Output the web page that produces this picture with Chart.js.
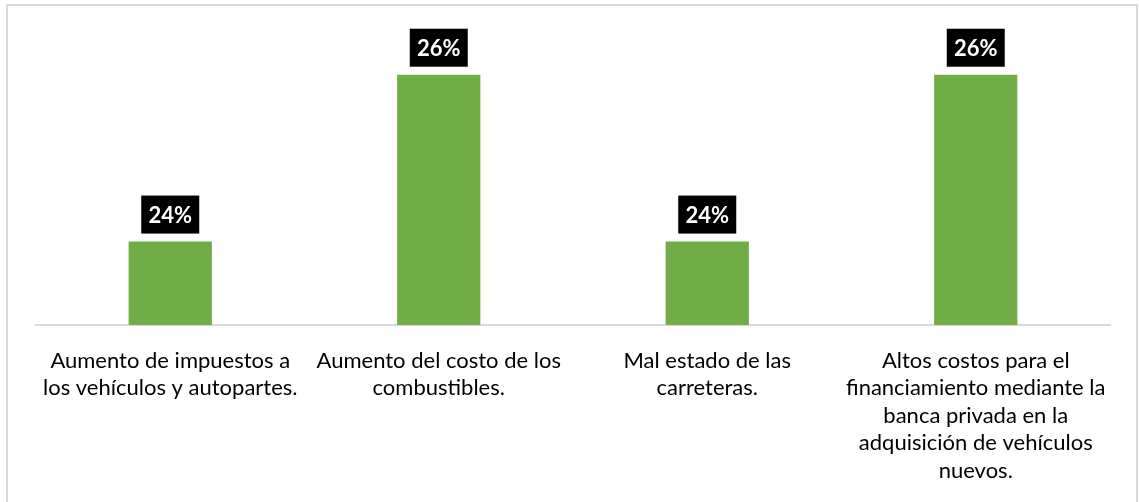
<!DOCTYPE html>
<html>
<head>
<meta charset="utf-8">
<script src="https://cdn.jsdelivr.net/npm/chart.js@4/dist/chart.umd.min.js"></script>
<style>
    html, body { margin: 0; padding: 0; background: #fff; }
    #wrap { position: relative; width: 1139px; height: 502px; overflow: hidden; }
    #frame { position: absolute; left: 6px; top: 4px; width: 1128px; height: 520px; border: 2px solid #d9d9d9; }
    #causes { position: absolute; left: 0; top: 0; }
</style>
</head>
<body>
<div id="wrap">
    <div id="frame"></div>
    <canvas id="causes" width="1139" height="502"></canvas>
</div>
<script>
var categories = [
    ["Aumento de impuestos a", "los vehículos y autopartes."],
    ["Aumento del costo de los", "combustibles."],
    ["Mal estado de las", "carreteras."],
    ["Altos costos para el", "financiamiento mediante la", "banca privada en la", "adquisición de vehículos", "nuevos."]
];
var shares = [24, 26, 24, 26];

// black boxes with the percentage above each bar
var valueBoxes = {
    id: 'valueBoxes',
    afterDatasetsDraw: function(chart){
        var ctx = chart.ctx;
        var meta = chart.getDatasetMeta(0);
        ctx.save();
        ctx.font = 'bold 22px Lato';
        ctx.textAlign = 'center';
        ctx.textBaseline = 'middle';
        meta.data.forEach(function(bar, i){
            var w = 58, h = 38;
            var bottom = bar.y - 8;
            ctx.fillStyle = '#000';
            ctx.fillRect(bar.x - w / 2, bottom - h, w, h);
            ctx.fillStyle = '#fff';
            ctx.fillText(shares[i] + '%', bar.x, bottom - h / 2 + 1);
        });
        ctx.restore();
    }
};

var ctx = document.getElementById("causes");
var chart = new Chart(ctx, {
    type: 'bar',
    data: {
        labels: categories,
        datasets: [{
            data: shares,
            backgroundColor: '#70ad47',
            barPercentage: 0.31,
            categoryPercentage: 1
        }]
    },
    options: {
        responsive: false,
        animation: false,
        layout: { padding: { top: 33, left: 36, right: 29, bottom: 0 } },
        plugins: {
            legend: { display: false },
            tooltip: { enabled: false }
        },
        scales: {
            x: {
                grid: { display: false },
                border: { display: true, color: '#d9d9d9', width: 2 },
                ticks: {
                    color: '#000',
                    padding: 14,
                    maxRotation: 0,
                    autoSkip: false,
                    font: { family: 'Lato', size: 22, lineHeight: 1.25 }
                },
                afterFit: function(scale){ scale.height = 177; }
            },
            y: {
                display: false,
                min: 23,
                max: 26.5
            }
        }
    },
    plugins: [valueBoxes]
});
</script>
</body>
</html>
